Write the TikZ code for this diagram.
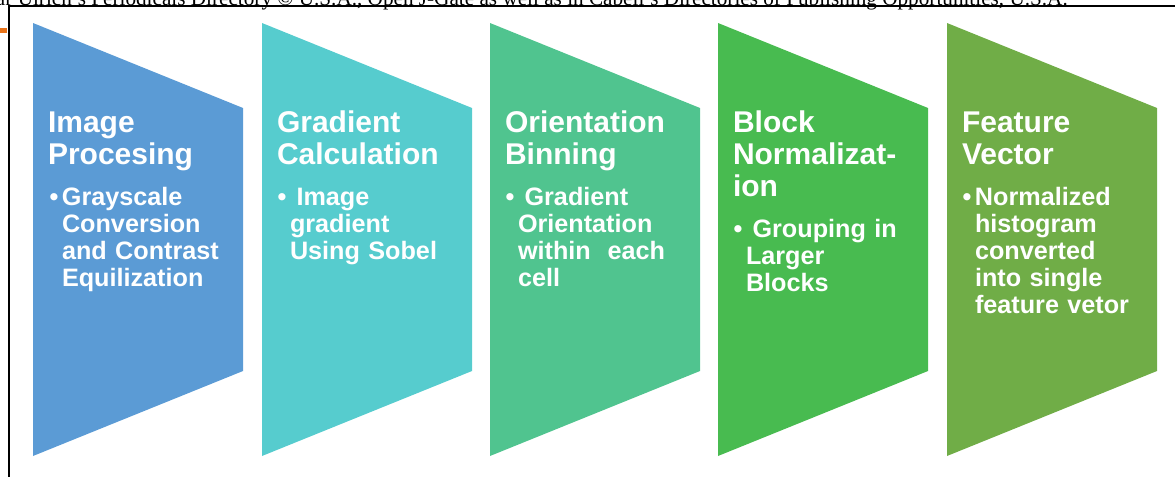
\documentclass[tikz,border=0pt]{standalone}
\usepackage{fontspec}
\newfontfamily\stagefont{Liberation Sans}
\newfontfamily\pagefont{Liberation Serif}
\usetikzlibrary{positioning}
\definecolor{stageblue}{RGB}{91,155,213}
\definecolor{stageteal}{RGB}{86,204,206}
\definecolor{stagemint}{RGB}{80,196,143}
\definecolor{stagegreen}{RGB}{72,187,80}
\definecolor{stageolive}{RGB}{112,173,71}
\definecolor{markorange}{RGB}{232,114,24}

\begin{document}
\begin{tikzpicture}[x=0.5pt, y=-0.5pt,
  every node/.style={inner sep=0pt, outer sep=0pt},
  stagetitle/.style={anchor=base west, text width=100pt, align=left, text=white,
    font=\stagefont\bfseries\fontsize{15}{16.2}\selectfont},
  stagebody/.style={anchor=base west, text width=92pt, align=left, text=white,
    font=\stagefont\bfseries\fontsize{12.6}{13.5}\selectfont}]
  \useasboundingbox (0,0) rectangle (1175,477);
  \clip (0,0) rectangle (1175,477);

  % page header, cut off at the top
  \node[anchor=base west, font=\pagefont\fontsize{10.6}{12}\selectfont] (header) at (-4,5.5)
    {ar Ulrich’s Periodicals Directory © U.S.A., Open J-Gate as well as in Cabell’s Directories of Publishing Opportunities, U.S.A.};
  \draw[line width=1pt] (8.5,477) -- (8.5,5.5) -- (1175,5.5);
  \fill[markorange] (0,28) rectangle (7,33);

  % the five stages
  \fill[stageblue]  (33,23) -- (243,108) -- (243,371) -- (33,456) -- cycle;
  \fill[stageteal]  (262,23) -- (472,108) -- (472,371) -- (262,456) -- cycle;
  \fill[stagemint]  (490,23) -- (700,108) -- (700,371) -- (490,456) -- cycle;
  \fill[stagegreen] (718,23) -- (928,108) -- (928,371) -- (718,456) -- cycle;
  \fill[stageolive] (947,23) -- (1157,108) -- (1157,371) -- (947,456) -- cycle;

  \node[stagetitle] (proc-title) at (48,132) {Image\\Procesing};
  \node[stagebody]  (proc-body)  at (62,205)
    {\llap{\textbullet\hspace{1.8pt}}Grayscale\\Conversion\\and Contrast\\Equilization};

  \node[stagetitle] (grad-title) at (277,132) {Gradient\\Calculation};
  \node[stagebody]  (grad-body)  at (290,205)
    {\llap{\textbullet\hspace{1.8pt}}\hspace*{3.3pt}Image\\gradient\\Using Sobel};

  \node[stagetitle] (bin-title) at (505,132) {Orientation\\Binning};
  \node[stagebody]  (bin-body)  at (518,205)
    {\llap{\textbullet\hspace{1.8pt}}\hspace*{3.3pt}Gradient\\Orientation\\within \ each\\cell};

  \node[stagetitle] (norm-title) at (733,132) {Block\\Normalizat-\\ion};
  \node[stagebody]  (norm-body)  at (746,237)
    {\llap{\textbullet\hspace{1.8pt}}\hspace*{3.3pt}Grouping in\\Larger\\Blocks};

  \node[stagetitle] (vec-title) at (962,132) {Feature\\Vector};
  \node[stagebody]  (vec-body)  at (975,205)
    {\llap{\textbullet\hspace{1.8pt}}Normalized\\histogram\\converted\\into single\\feature vetor};
\end{tikzpicture}
\end{document}
